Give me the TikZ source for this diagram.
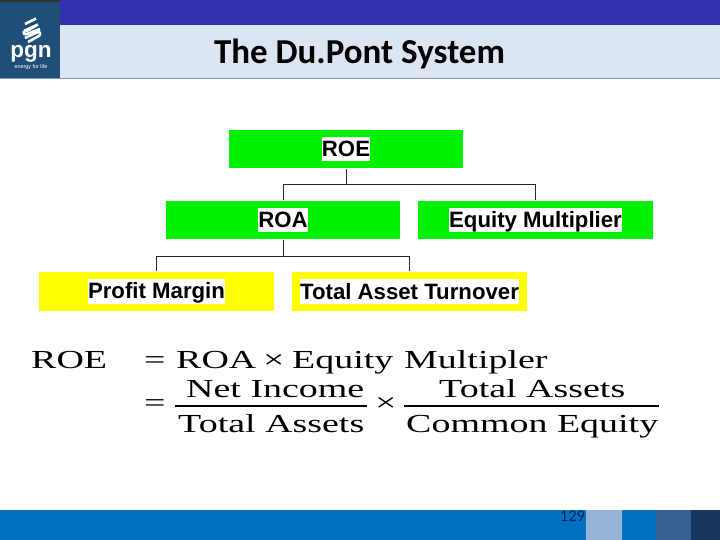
\documentclass[tikz,border=0pt]{standalone}
\usepackage{fontspec}
\usepackage{xcolor}
\usepackage{graphicx}
\setmainfont{Liberation Serif}
\newfontfamily\titlefont{Carlito}
\newfontfamily\boxfont{Liberation Sans}
\definecolor{bandblue}{HTML}{3530B0}
\definecolor{paleblue}{HTML}{DCE6F2}
\definecolor{logoblue}{HTML}{1F4E79}
\definecolor{ruleblue}{HTML}{7F9AC0}
\definecolor{footA}{HTML}{0070C0}
\definecolor{footB}{HTML}{95B3D7}
\definecolor{footC}{HTML}{366092}
\definecolor{footD}{HTML}{17375E}
\definecolor{pagenum}{HTML}{10205A}
\definecolor{boxgreen}{HTML}{00F000}
\definecolor{boxyellow}{HTML}{FFFF00}
\newcommand{\boxlabel}[1]{{\setlength{\fboxsep}{0.3pt}\colorbox{white}{\boxfont\bfseries\fontsize{22.2}{25}\selectfont\rule[-4.5pt]{0pt}{24pt}#1}}}
\newcommand{\eqtext}[1]{\scalebox{1.46}[1]{#1}}
\tikzset{
  x=1pt,y=-1pt,
  flatbox/.style={minimum width=234.5pt,minimum height=38.5pt,inner sep=0pt,anchor=center},
  greenbox/.style={flatbox,fill=boxgreen},
  yellowbox/.style={flatbox,fill=boxyellow},
  link/.style={draw=black!85,line width=1pt},
  eqn/.style={inner sep=0pt,anchor=base west,font=\fontsize{26}{28}\selectfont},
  eqbar/.style={draw=black,line width=1.1pt},
  logotext/.style={text=white,inner sep=0pt,anchor=center}
}
\begin{document}
\begin{tikzpicture}
\useasboundingbox (0,0) rectangle (720,540);
\fill[white] (0,0) rectangle (720,540);
% header
\fill[bandblue] (60,0) rectangle (720,25);
\fill[paleblue] (60,25) rectangle (720,78);
\draw[ruleblue,line width=0.8pt] (0,78.5) -- (720,78.5);
\fill[logoblue] (0,2) rectangle (60,78);
\fill[black!80] (0,0) rectangle (60,2);
% logo mark
\begin{scope}[line width=2.6pt,draw=white,line cap=butt]
\draw (25,24) -- (36,18.5);
\draw (24,31) -- (38,24.5) -- (26,31.5);
\draw (24,31) .. controls (23,34) and (25,35) .. (27,34) -- (40,29);
\draw (25,38) -- (39,31.5) .. controls (41,34) and (40,36) .. (37,37) -- (28,42);
\end{scope}
\node[logotext,font=\boxfont\bfseries\fontsize{22.5}{23}\selectfont] (pgn) at (31,54) {pgn};
\node[logotext,font=\boxfont\fontsize{5.4}{6}\selectfont] (tag) at (31,67.5) {energy for life};
\node[inner sep=0pt,font=\titlefont\bfseries\fontsize{35}{37}\selectfont] (title) at (359.5,54) {The Du.Pont System};
% boxes
\node[greenbox] (roe) at (346,149) {\boxlabel{ROE}};
\node[greenbox] (roa) at (283,220) {\boxlabel{ROA}};
\node[greenbox] (em) at (535.5,220) {\boxlabel{Equity Multiplier}};
\node[yellowbox] (pm) at (156.5,291.5) {\boxlabel{Profit Margin}};
\node[yellowbox] (tat) at (409.5,291.5) {\boxlabel{Total Asset Turnover}};
% connectors
\coordinate (j1) at (346,184.5);
\coordinate (j2) at (283,256);
\draw[link] ([yshift=-1pt]roe.south) -- (j1);
\draw[link] ([yshift=1pt]roa.north) |- (j1);
\draw[link] ([yshift=1pt]em.north) |- (j1);
\draw[link] ([yshift=-1pt]roa.south) -- (j2);
\draw[link] ([yshift=1pt]pm.north) |- (j2);
\draw[link] ([yshift=1pt]tat.north) |- (j2);
% equation
\node[eqn] (e1) at (31,368) {\eqtext{ROE}};
\node[eqn] (e2) at (144,368) {\eqtext{=}};
\node[eqn] (e3) at (176,368) {\eqtext{ROA}};
\node[eqn] (e4) at (263,368) {\eqtext{×}};
\node[eqn] (e5) at (292,368) {\eqtext{Equity}};
\node[eqn] (e6) at (404,368) {\eqtext{Multipler}};
\node[eqn] (e7) at (144,411) {\eqtext{=}};
\node[eqn] (e8) at (186,397) {\eqtext{Net Income}};
\node[eqn] (e9) at (178,432) {\eqtext{Total Assets}};
\node[eqn] (e10) at (375,411) {\eqtext{×}};
\node[eqn] (e11) at (439,397) {\eqtext{Total Assets}};
\node[eqn] (e12) at (406,432) {\eqtext{Common Equity}};
\coordinate (b1) at (175,406);
\coordinate (b2) at (367,406);
\coordinate (b3) at (404,406);
\coordinate (b4) at (659,406);
\draw[eqbar] (b1) -- (b2);
\draw[eqbar] (b3) -- (b4);
% footer
\fill[footA] (0,510) rectangle (586,540);
\fill[footB] (586,510) rectangle (622,540);
\fill[footA] (622,510) rectangle (656,540);
\fill[footC] (656,510) rectangle (691,540);
\fill[footD] (691,510) rectangle (720,540);
\node[inner sep=0pt,text=pagenum,font=\titlefont\fontsize{16.5}{17}\selectfont] (page) at (572.5,516) {129};
\end{tikzpicture}
\end{document}
